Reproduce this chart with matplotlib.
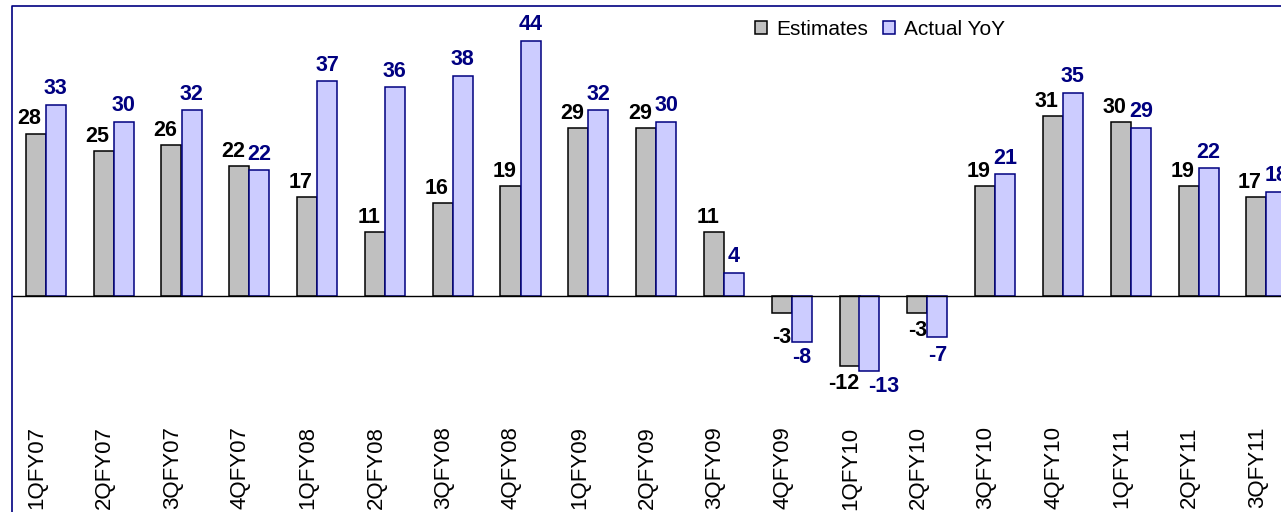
import matplotlib
matplotlib.use("Agg")
import matplotlib.pyplot as plt
import matplotlib.transforms as mtransforms
from matplotlib.patches import Patch
from matplotlib.lines import Line2D
import numpy as np

categories = ["1QFY07", "2QFY07", "3QFY07", "4QFY07", "1QFY08", "2QFY08", "3QFY08",
              "4QFY08", "1QFY09", "2QFY09", "3QFY09", "4QFY09", "1QFY10", "2QFY10",
              "3QFY10", "4QFY10", "1QFY11", "2QFY11", "3QFY11"]
estimates = [28, 25, 26, 22.4, 17, 11, 16, 19, 29, 29, 11, -3, -12, -3, 19, 31, 30, 19, 17]
actual_yoy = [33, 30, 32, 21.7, 37, 36, 38, 44, 32, 30, 4, -8, -13, -7, 21, 35, 29, 22, 18]

plt.rcParams['font.family'] = ['Liberation Sans', 'DejaVu Sans']

W, H = 1281, 512
fig = plt.figure(figsize=(W / 100, H / 100), dpi=100)

# axes geometry in pixels
left_px, top_px = 12, 6
px_per_unit = 5.8
ymax, ymin = 50, -22
group_px = 67.8
n_groups_full = 19
ax_w_px = n_groups_full * group_px
ax_h_px = (ymax - ymin) * px_per_unit
ax = fig.add_axes([left_px / W, 1 - (top_px + ax_h_px) / H, ax_w_px / W, ax_h_px / H])
ax.set_xlim(-0.5, n_groups_full - 0.5)
ax.set_ylim(ymin, ymax)
for s in ax.spines.values():
    s.set_visible(False)
ax.set_yticks([])

x = np.arange(len(categories))
w = 20 / group_px
navy = "#000080"
ax.bar(x - w / 2, estimates, width=w, color="#C0C0C0", edgecolor="black", linewidth=1.1, zorder=2)
ax.bar(x + w / 2, actual_yoy, width=w, color="#CCCCFF", edgecolor=navy, linewidth=1.1, zorder=2)
ax.axhline(0, color="black", linewidth=1.0, zorder=3)

# data labels
nudge_est = {11: (0, -5), 12: (-4, 0)}
nudge_act = {12: (10, 0), 13: (0, -3)}
lbl_size = 15.5
for i, (e, a) in enumerate(zip(estimates, actual_yoy)):
    dx, dy = nudge_est.get(i, (0, 0))
    if e >= 0:
        ax.annotate(f"{round(e)}", (i - w / 2, e), xytext=(-4.5 + dx, 3 + dy), textcoords="offset points",
                    ha="center", va="bottom", fontsize=lbl_size, fontweight="bold", color="black", zorder=4)
    else:
        ax.annotate(f"{round(e)}", (i - w / 2, e), xytext=(0 + dx, -5 + dy), textcoords="offset points",
                    ha="center", va="top", fontsize=lbl_size, fontweight="bold", color="black", zorder=4)
    dx, dy = nudge_act.get(i, (0, 0))
    if a >= 0:
        ax.annotate(f"{round(a)}", (i + w / 2, a), xytext=(0 + dx, 4 + dy), textcoords="offset points",
                    ha="center", va="bottom", fontsize=lbl_size, fontweight="bold", color=navy, zorder=4)
    else:
        ax.annotate(f"{round(a)}", (i + w / 2, a), xytext=(0 + dx, -3 + dy), textcoords="offset points",
                    ha="center", va="top", fontsize=lbl_size, fontweight="bold", color=navy, zorder=4)

# category labels
ax.set_xticks(x)
ax.set_xticklabels(categories, rotation=90, fontsize=16, color="black")
ax.tick_params(axis="x", length=0, pad=2)
offset = mtransforms.ScaledTranslation(-9 / 100, 0, fig.dpi_scale_trans)
for lbl in ax.get_xticklabels():
    lbl.set_transform(lbl.get_transform() + offset)

# chart-area frame (left and top edges visible)
fx = left_px / W
fy = 1 - top_px / H
fig.add_artist(Line2D([fx, fx, 1.05], [-0.05, fy, fy], transform=fig.transFigure,
                      color=navy, linewidth=1.2))

# legend
handles = [Patch(facecolor="#C0C0C0", edgecolor="black", linewidth=1.1, label="Estimates"),
           Patch(facecolor="#CCCCFF", edgecolor=navy, linewidth=1.1, label="Actual YoY")]
fig.legend(handles=handles, loc="upper left", bbox_to_anchor=(755 / W, 1 - 20 / H), ncol=2,
           frameon=False, fontsize=15, handlelength=0.58, handleheight=0.58, handletextpad=0.45,
           columnspacing=0.7, borderpad=0, borderaxespad=0)

fig.savefig("out.png", dpi=100)
